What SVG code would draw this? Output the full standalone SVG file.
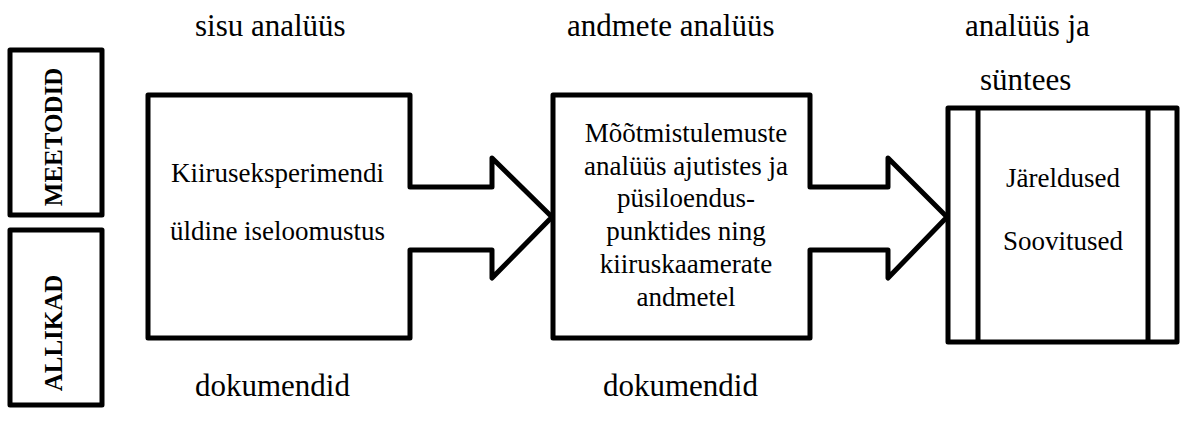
<svg xmlns="http://www.w3.org/2000/svg" width="1182" height="423" viewBox="0 0 1182 423">
<style>
.s{fill:#fff;stroke:#000;stroke-width:5;stroke-linejoin:round}
.l{stroke:#000;stroke-width:5}
.h{font-family:"Liberation Serif","Times New Roman",serif;font-size:31px;fill:#000}
.t{font-family:"Liberation Serif","Times New Roman",serif;font-size:27px;fill:#000;text-anchor:middle}
.v{font-family:"Liberation Serif","Times New Roman",serif;font-size:25px;font-weight:bold;fill:#000;text-anchor:middle}
</style>
<rect width="1182" height="423" fill="#fff"/>
<g id="labels">
<text class="h" x="195" y="36">sisu analüüs</text>
<text class="h" x="567" y="36">andmete analüüs</text>
<text class="h" x="965" y="36">analüüs ja</text>
<text class="h" x="980" y="90">süntees</text>
<text class="h" x="195" y="396">dokumendid</text>
<text class="h" x="603" y="396">dokumendid</text>
</g>
<g id="meetodid">
<rect class="s" x="10" y="50" width="92" height="165"/>
<text class="v" x="62" y="137" transform="rotate(-90 62 137)">MEETODID</text>
</g>
<g id="allikad">
<rect class="s" x="10" y="230" width="92" height="175"/>
<text class="v" x="62" y="333" transform="rotate(-90 62 333)">ALLIKAD</text>
</g>
<g id="node1">
<path class="s" d="M148,95 H410 V187 H492 V158 L552,217 L492,278 V250 H410 V338 H148 Z"/>
<text class="t" x="277.5" y="182">Kiiruseksperimendi</text>
<text class="t" x="277.5" y="240">üldine iseloomustus</text>
</g>
<g id="node2">
<path class="s" d="M553,95 H810 V187 H888 V158 L947,217 L888,278 V250 H810 V338 H553 Z"/>
<text class="t" x="686" y="142">Mõõtmistulemuste</text>
<text class="t" x="686" y="175">analüüs ajutistes ja</text>
<text class="t" x="686" y="207">püsiloendus-</text>
<text class="t" x="686" y="240">punktides ning</text>
<text class="t" x="686" y="273">kiiruskaamerate</text>
<text class="t" x="686" y="306">andmetel</text>
</g>
<g id="node3">
<rect class="s" x="948" y="108" width="229" height="234"/>
<line class="l" x1="978" y1="108" x2="978" y2="342"/>
<line class="l" x1="1148" y1="108" x2="1148" y2="342"/>
<text class="t" x="1063" y="187">Järeldused</text>
<text class="t" x="1063" y="250">Soovitused</text>
</g>
<g id="connectors"/>
</svg>
